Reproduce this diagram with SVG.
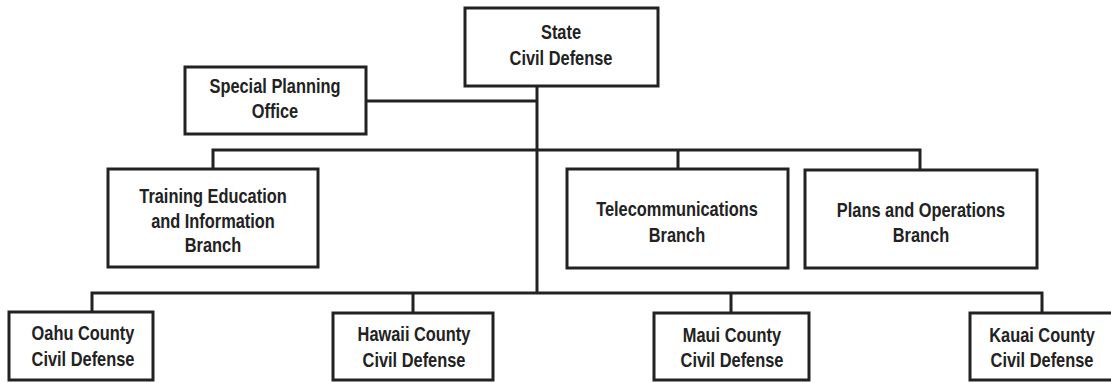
<svg xmlns="http://www.w3.org/2000/svg" width="1111" height="383" viewBox="0 0 1111 383">
<style>
.box{fill:#fff;stroke:#222;stroke-width:3}
.ln{fill:none;stroke:#222;stroke-width:3}
text{font-family:"Liberation Sans",Arial,sans-serif;font-weight:bold;font-size:20px;fill:#222;text-anchor:middle}
</style>
<rect width="1111" height="383" fill="#fff"/>
<g id="connectors">
<path class="ln" d="M537 86V293"/>
<path class="ln" d="M366 101H537"/>
<path class="ln" d="M213 169V150H920V169"/>
<path class="ln" d="M678 150V169"/>
<path class="ln" d="M92 313V293H1042V313"/>
<path class="ln" d="M413 293V313"/>
<path class="ln" d="M731 293V313"/>
</g>
<g id="state">
<rect class="box" x="465" y="8" width="193" height="78"/>
<text transform="translate(561,39) scale(0.82,1)">State</text>
<text transform="translate(561,65) scale(0.82,1)">Civil Defense</text>
</g>
<g id="special">
<rect class="box" x="185" y="67" width="181" height="67"/>
<text transform="translate(275,93) scale(0.82,1)">Special Planning</text>
<text transform="translate(275,118) scale(0.82,1)">Office</text>
</g>
<g id="training">
<rect class="box" x="108" y="169" width="210" height="98"/>
<text transform="translate(213,203) scale(0.82,1)">Training Education</text>
<text transform="translate(213,228) scale(0.82,1)">and Information</text>
<text transform="translate(213,252) scale(0.82,1)">Branch</text>
</g>
<g id="telecom">
<rect class="box" x="567" y="169" width="221" height="99"/>
<text transform="translate(677,216) scale(0.82,1)">Telecommunications</text>
<text transform="translate(677,242) scale(0.82,1)">Branch</text>
</g>
<g id="plans">
<rect class="box" x="805" y="170" width="232" height="98"/>
<text transform="translate(921,217) scale(0.82,1)">Plans and Operations</text>
<text transform="translate(921,242) scale(0.82,1)">Branch</text>
</g>
<g id="oahu">
<rect class="box" x="9" y="312" width="144" height="68"/>
<text transform="translate(83,340) scale(0.82,1)">Oahu County</text>
<text transform="translate(83,366) scale(0.82,1)">Civil Defense</text>
</g>
<g id="hawaii">
<rect class="box" x="333" y="313" width="160" height="67"/>
<text transform="translate(414,341) scale(0.82,1)">Hawaii County</text>
<text transform="translate(414,367) scale(0.82,1)">Civil Defense</text>
</g>
<g id="maui">
<rect class="box" x="654" y="313" width="155" height="67"/>
<text transform="translate(732,342) scale(0.82,1)">Maui County</text>
<text transform="translate(732,367) scale(0.82,1)">Civil Defense</text>
</g>
<g id="kauai">
<rect class="box" x="970" y="313" width="150" height="67"/>
<text transform="translate(1042,342) scale(0.82,1)">Kauai County</text>
<text transform="translate(1042,367) scale(0.82,1)">Civil Defense</text>
</g>
</svg>
